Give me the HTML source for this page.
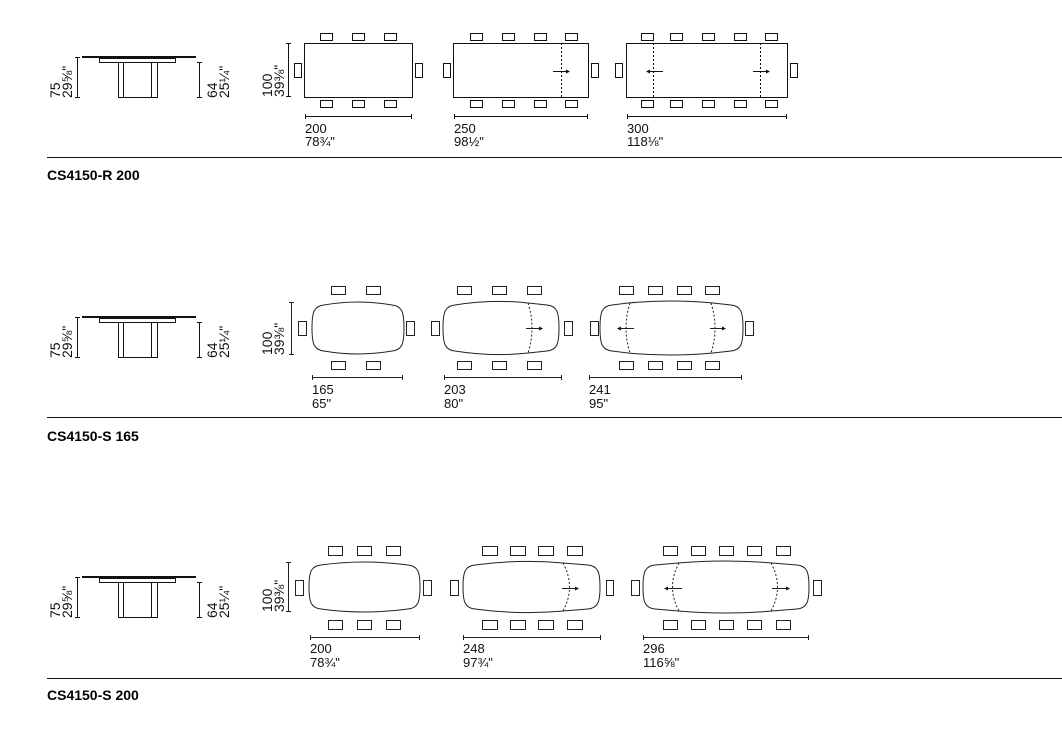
<!DOCTYPE html>
<html><head><meta charset="utf-8"><style>
html,body{margin:0;padding:0;background:#fff;}
svg{display:block;}
text{font-family:"Liberation Sans",Arial,sans-serif;font-size:13px;fill:#111;}
.r{font-size:14px;}
.b{font-weight:bold;font-size:14px;fill:#000;}
</style></head><body>
<svg width="1062" height="752" viewBox="0 0 1062 752" xmlns="http://www.w3.org/2000/svg">
<defs>
<g id="side" fill="none" stroke="#111">
<line x1="82" y1="57" x2="196" y2="57" stroke-width="2"/>
<rect x="99.5" y="58.5" width="76" height="4" stroke-width="1"/>
<rect x="118.5" y="62.5" width="5" height="35" stroke-width="1"/>
<rect x="151.5" y="62.5" width="6" height="35" stroke-width="1"/>
<line x1="123.5" y1="97.5" x2="151.5" y2="97.5"/>
<line x1="77.5" y1="57" x2="77.5" y2="98"/><line x1="75" y1="57.5" x2="80" y2="57.5"/><line x1="75" y1="97.5" x2="80" y2="97.5"/>
<line x1="199.5" y1="62" x2="199.5" y2="98"/><line x1="197" y1="62.5" x2="202" y2="62.5"/><line x1="197" y1="97.5" x2="202" y2="97.5"/>
</g>
</defs>

<!-- ROW 1 -->
<use href="#side"/>
<text class="r" transform="translate(60,98) rotate(-90)">75</text>
<text class="r" transform="translate(72,98) rotate(-90)">29⅝"</text>
<text class="r" transform="translate(217,98) rotate(-90)">64</text>
<text class="r" transform="translate(229,98) rotate(-90)">25¼"</text>
<text class="r" transform="translate(272,97) rotate(-90)">100</text>
<text class="r" transform="translate(284,97) rotate(-90)">39⅜"</text>
<g fill="none" stroke="#111" stroke-width="1">
<line x1="288.5" y1="43" x2="288.5" y2="97"/><line x1="286" y1="43.5" x2="291" y2="43.5"/><line x1="286" y1="96.5" x2="291" y2="96.5"/>
<rect x="304.5" y="43.5" width="108" height="54"/>
<rect x="320.5" y="33.5" width="12" height="7"/><rect x="352.5" y="33.5" width="12" height="7"/><rect x="384.5" y="33.5" width="12" height="7"/>
<rect x="320.5" y="100.5" width="12" height="7"/><rect x="352.5" y="100.5" width="12" height="7"/><rect x="384.5" y="100.5" width="12" height="7"/>
<rect x="294.5" y="63.5" width="7" height="14"/><rect x="415.5" y="63.5" width="7" height="14"/>
<line x1="305" y1="116.5" x2="412" y2="116.5"/><line x1="305.5" y1="114" x2="305.5" y2="119"/><line x1="411.5" y1="114" x2="411.5" y2="119"/>

<rect x="453.5" y="43.5" width="135" height="54"/>
<line x1="561.5" y1="43" x2="561.5" y2="97" stroke-dasharray="2,2"/>
<rect x="470.5" y="33.5" width="12" height="7"/><rect x="502.5" y="33.5" width="12" height="7"/><rect x="534.5" y="33.5" width="12" height="7"/><rect x="565.5" y="33.5" width="12" height="7"/>
<rect x="470.5" y="100.5" width="12" height="7"/><rect x="502.5" y="100.5" width="12" height="7"/><rect x="534.5" y="100.5" width="12" height="7"/><rect x="565.5" y="100.5" width="12" height="7"/>
<rect x="443.5" y="63.5" width="7" height="14"/><rect x="591.5" y="63.5" width="7" height="14"/>
<line x1="553" y1="71.5" x2="569" y2="71.5"/>
<line x1="454" y1="116.5" x2="588" y2="116.5"/><line x1="454.5" y1="114" x2="454.5" y2="119"/><line x1="587.5" y1="114" x2="587.5" y2="119"/>

<rect x="626.5" y="43.5" width="161" height="54"/>
<line x1="653.5" y1="43" x2="653.5" y2="97" stroke-dasharray="2,2"/>
<line x1="760.5" y1="43" x2="760.5" y2="97" stroke-dasharray="2,2"/>
<rect x="641.5" y="33.5" width="12" height="7"/><rect x="670.5" y="33.5" width="12" height="7"/><rect x="702.5" y="33.5" width="12" height="7"/><rect x="734.5" y="33.5" width="12" height="7"/><rect x="765.5" y="33.5" width="12" height="7"/>
<rect x="641.5" y="100.5" width="12" height="7"/><rect x="670.5" y="100.5" width="12" height="7"/><rect x="702.5" y="100.5" width="12" height="7"/><rect x="734.5" y="100.5" width="12" height="7"/><rect x="765.5" y="100.5" width="12" height="7"/>
<rect x="615.5" y="63.5" width="7" height="14"/><rect x="790.5" y="63.5" width="7" height="14"/>
<line x1="647" y1="71.5" x2="663" y2="71.5"/><line x1="753" y1="71.5" x2="769" y2="71.5"/>
<line x1="627" y1="116.5" x2="787" y2="116.5"/><line x1="627.5" y1="114" x2="627.5" y2="119"/><line x1="786.5" y1="114" x2="786.5" y2="119"/>
</g>
<g fill="#111"><path d="M570,71.5 l-4,-2 v4z"/><path d="M646,71.5 l4,-2 v4z"/><path d="M770,71.5 l-4,-2 v4z"/></g>
<text x="305" y="133">200</text><text x="305" y="146">78¾"</text>
<text x="454" y="133">250</text><text x="454" y="146">98½"</text>
<text x="627" y="133">300</text><text x="627" y="146">118⅛"</text>
<line x1="47" y1="157.5" x2="1062" y2="157.5" stroke="#111"/>
<text class="b" x="47" y="180">CS4150-R 200</text>

<!-- ROW 2 -->
<use href="#side" transform="translate(0,260)"/>
<text class="r" transform="translate(60,358) rotate(-90)">75</text>
<text class="r" transform="translate(72,358) rotate(-90)">29⅝"</text>
<text class="r" transform="translate(217,358) rotate(-90)">64</text>
<text class="r" transform="translate(229,358) rotate(-90)">25¼"</text>
<text class="r" transform="translate(272,355) rotate(-90)">100</text>
<text class="r" transform="translate(284,355) rotate(-90)">39⅜"</text>
<g fill="none" stroke="#222" stroke-width="1">
<line x1="291.5" y1="302" x2="291.5" y2="355"/><line x1="289" y1="302.5" x2="294" y2="302.5"/><line x1="289" y1="354.5" x2="294" y2="354.5"/>
<path d="M324,305 Q358,299 392,305 C402,306 404,312 404,328 C404,344 402,350 392,351 Q358,357 324,351 C314,350 312,344 312,328 C312,312 314,306 324,305Z"/>
<rect x="331.5" y="286.5" width="14" height="8"/><rect x="366.5" y="286.5" width="14" height="8"/>
<rect x="331.5" y="361.5" width="14" height="8"/><rect x="366.5" y="361.5" width="14" height="8"/>
<rect x="298.5" y="321.5" width="8" height="14"/><rect x="406.5" y="321.5" width="8" height="14"/>
<line x1="312" y1="377.5" x2="403" y2="377.5"/><line x1="312.5" y1="375" x2="312.5" y2="380"/><line x1="402.5" y1="375" x2="402.5" y2="380"/>

<path d="M455,305 Q492,299 528,303 L547,305 C557,306 559,312 559,328 C559,344 557,350 547,351 L528,353 Q492,357 455,351 C445,350 443,344 443,328 C443,312 445,306 455,305Z"/>
<path d="M528,303 Q536,328 528,353" stroke-dasharray="2,2"/>
<rect x="457.5" y="286.5" width="14" height="8"/><rect x="492.5" y="286.5" width="14" height="8"/><rect x="527.5" y="286.5" width="14" height="8"/>
<rect x="457.5" y="361.5" width="14" height="8"/><rect x="492.5" y="361.5" width="14" height="8"/><rect x="527.5" y="361.5" width="14" height="8"/>
<rect x="431.5" y="321.5" width="8" height="14"/><rect x="564.5" y="321.5" width="8" height="14"/>
<line x1="526" y1="328.5" x2="542" y2="328.5"/>
<line x1="444" y1="377.5" x2="562" y2="377.5"/><line x1="444.5" y1="375" x2="444.5" y2="380"/><line x1="561.5" y1="375" x2="561.5" y2="380"/>

<path d="M612,305 L628,303 Q670,299 713,303 L731,305 C741,306 743,312 743,328 C743,344 741,350 731,351 L713,353 Q670,357 628,353 L612,351 C602,350 600,344 600,328 C600,312 602,306 612,305Z"/>
<path d="M630,303 Q622,328 630,353" stroke-dasharray="2,2"/>
<path d="M711,303 Q719,328 711,353" stroke-dasharray="2,2"/>
<rect x="619.5" y="286.5" width="14" height="8"/><rect x="648.5" y="286.5" width="14" height="8"/><rect x="677.5" y="286.5" width="14" height="8"/><rect x="705.5" y="286.5" width="14" height="8"/>
<rect x="619.5" y="361.5" width="14" height="8"/><rect x="648.5" y="361.5" width="14" height="8"/><rect x="677.5" y="361.5" width="14" height="8"/><rect x="705.5" y="361.5" width="14" height="8"/>
<rect x="590.5" y="321.5" width="8" height="14"/><rect x="745.5" y="321.5" width="8" height="14"/>
<line x1="619" y1="328.5" x2="634" y2="328.5"/><line x1="710" y1="328.5" x2="725" y2="328.5"/>
<line x1="589" y1="377.5" x2="742" y2="377.5"/><line x1="589.5" y1="375" x2="589.5" y2="380"/><line x1="741.5" y1="375" x2="741.5" y2="380"/>
</g>
<g fill="#111"><path d="M543,328.5 l-4,-2 v4z"/><path d="M617,328.5 l4,-2 v4z"/><path d="M726,328.5 l-4,-2 v4z"/></g>
<text x="312" y="394">165</text><text x="312" y="408">65"</text>
<text x="444" y="394">203</text><text x="444" y="408">80"</text>
<text x="589" y="394">241</text><text x="589" y="408">95"</text>
<line x1="47" y1="417.5" x2="1062" y2="417.5" stroke="#111"/>
<text class="b" x="47" y="441">CS4150-S 165</text>

<!-- ROW 3 -->
<use href="#side" transform="translate(0,520)"/>
<text class="r" transform="translate(60,618) rotate(-90)">75</text>
<text class="r" transform="translate(72,618) rotate(-90)">29⅝"</text>
<text class="r" transform="translate(217,618) rotate(-90)">64</text>
<text class="r" transform="translate(229,618) rotate(-90)">25¼"</text>
<text class="r" transform="translate(272,612) rotate(-90)">100</text>
<text class="r" transform="translate(284,612) rotate(-90)">39⅜"</text>
<g fill="none" stroke="#222" stroke-width="1">
<line x1="288.5" y1="562" x2="288.5" y2="612"/><line x1="286" y1="562.5" x2="291" y2="562.5"/><line x1="286" y1="611.5" x2="291" y2="611.5"/>
<path d="M321,565 Q364,559 408,565 C418,566 420,572 420,587 C420,602 418,608 408,609 Q364,615 321,609 C311,608 309,602 309,587 C309,572 311,566 321,565Z"/>
<rect x="328.5" y="546.5" width="14" height="9"/><rect x="357.5" y="546.5" width="14" height="9"/><rect x="386.5" y="546.5" width="14" height="9"/>
<rect x="328.5" y="620.5" width="14" height="9"/><rect x="357.5" y="620.5" width="14" height="9"/><rect x="386.5" y="620.5" width="14" height="9"/>
<rect x="295.5" y="580.5" width="8" height="15"/><rect x="423.5" y="580.5" width="8" height="15"/>
<line x1="310" y1="637.5" x2="420" y2="637.5"/><line x1="310.5" y1="635" x2="310.5" y2="640"/><line x1="419.5" y1="635" x2="419.5" y2="640"/>

<path d="M475,565 Q520,559 563,563 L588,565 C598,566 600,572 600,587 C600,602 598,608 588,609 L563,611 Q520,615 475,609 C465,608 463,602 463,587 C463,572 465,566 475,565Z"/>
<path d="M563,563 Q576,587 563,611" stroke-dasharray="2,2"/>
<rect x="482.5" y="546.5" width="15" height="9"/><rect x="510.5" y="546.5" width="15" height="9"/><rect x="538.5" y="546.5" width="15" height="9"/><rect x="567.5" y="546.5" width="15" height="9"/>
<rect x="482.5" y="620.5" width="15" height="9"/><rect x="510.5" y="620.5" width="15" height="9"/><rect x="538.5" y="620.5" width="15" height="9"/><rect x="567.5" y="620.5" width="15" height="9"/>
<rect x="450.5" y="580.5" width="8" height="15"/><rect x="606.5" y="580.5" width="7" height="15"/>
<line x1="562" y1="588.5" x2="578" y2="588.5"/>
<line x1="463" y1="637.5" x2="601" y2="637.5"/><line x1="463.5" y1="635" x2="463.5" y2="640"/><line x1="600.5" y1="635" x2="600.5" y2="640"/>

<path d="M655,565 L678,563 Q725,559 772,563 L797,565 C807,566 809,572 809,587 C809,602 807,608 797,609 L772,611 Q725,615 678,611 L655,609 C645,608 643,602 643,587 C643,572 645,566 655,565Z"/>
<path d="M679,563 Q666,587 679,611" stroke-dasharray="2,2"/>
<path d="M771,563 Q784,587 771,611" stroke-dasharray="2,2"/>
<rect x="663.5" y="546.5" width="14" height="9"/><rect x="691.5" y="546.5" width="14" height="9"/><rect x="719.5" y="546.5" width="14" height="9"/><rect x="747.5" y="546.5" width="14" height="9"/><rect x="776.5" y="546.5" width="14" height="9"/>
<rect x="663.5" y="620.5" width="14" height="9"/><rect x="691.5" y="620.5" width="14" height="9"/><rect x="719.5" y="620.5" width="14" height="9"/><rect x="747.5" y="620.5" width="14" height="9"/><rect x="776.5" y="620.5" width="14" height="9"/>
<rect x="631.5" y="580.5" width="8" height="15"/><rect x="813.5" y="580.5" width="8" height="15"/>
<line x1="666" y1="588.5" x2="682" y2="588.5"/><line x1="772" y1="588.5" x2="788" y2="588.5"/>
<line x1="643" y1="637.5" x2="809" y2="637.5"/><line x1="643.5" y1="635" x2="643.5" y2="640"/><line x1="808.5" y1="635" x2="808.5" y2="640"/>
</g>
<g fill="#111"><path d="M579,588.5 l-4,-2 v4z"/><path d="M664,588.5 l4,-2 v4z"/><path d="M790,588.5 l-4,-2 v4z"/></g>
<text x="310" y="653">200</text><text x="310" y="667">78¾"</text>
<text x="463" y="653">248</text><text x="463" y="667">97¾"</text>
<text x="643" y="653">296</text><text x="643" y="667">116⅝"</text>
<line x1="47" y1="678.5" x2="1062" y2="678.5" stroke="#111"/>
<text class="b" x="47" y="700">CS4150-S 200</text>
</svg>
</body></html>
